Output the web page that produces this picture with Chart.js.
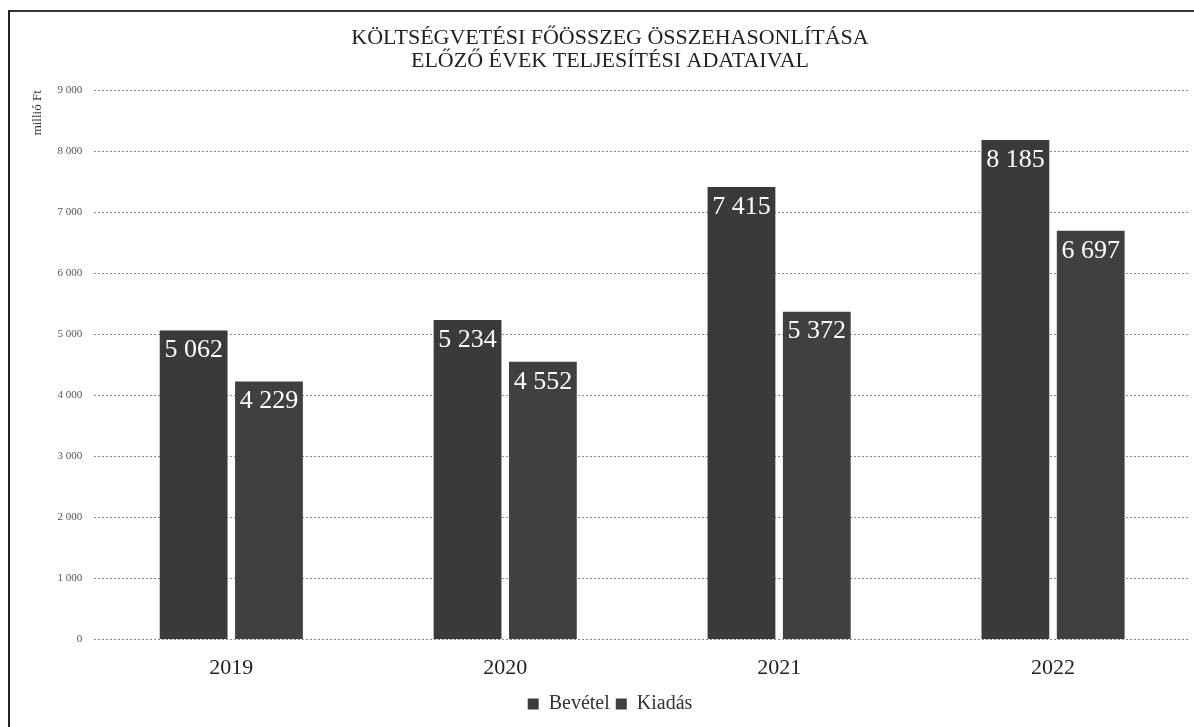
<!DOCTYPE html>
<html>
<head>
<meta charset="utf-8">
<script src="https://cdn.jsdelivr.net/npm/chart.js@4"></script>
<style>
  html, body { margin: 0; padding: 0; background: #fff; }
  #keret {
    position: absolute; left: 8px; top: 10px; width: 1186px; height: 717px;
    border-left: 2px solid #222; border-top: 2px solid #333; box-sizing: border-box;
  }
  #doboz { position: absolute; left: 0; top: 0; width: 1194px; height: 727px; }
</style>
</head>
<body>
<div id="keret"></div>
<div id="doboz"><canvas id="grafikon" width="1194" height="727"></canvas></div>
<script>
"use strict";

// adatok (millió Ft)
const evek = ['2019', '2020', '2021', '2022'];
const bevetel = [5062, 5234, 7415, 8185];
const kiadas = [4229, 4552, 5372, 6697];
const sorozatNevek = ['Bevétel', 'Kiadás'];
const tengelyMax = 9000;
const tengelyLepes = 1000;

const betu = '"Liberation Serif", "DejaVu Serif", serif';

// ezres tagolás szóközzel: 5062 -> "5 062"
function tagol(v) {
    return String(v).replace(/\B(?=(\d{3})+(?!\d))/g, ' ');
}

// értékek kiírása az oszlopok tetejére, belülre
const ertekCimkek = {
    id: 'ertekCimkek',
    afterDatasetsDraw(chart) {
        const ctx = chart.ctx;
        ctx.save();
        ctx.font = '26px ' + betu;
        ctx.fillStyle = '#ffffff';
        ctx.textAlign = 'center';
        ctx.textBaseline = 'top';
        chart.data.datasets.forEach(function (ds, i) {
            chart.getDatasetMeta(i).data.forEach(function (bar, j) {
                ctx.fillText(tagol(ds.data[j]), bar.x, bar.y + 7);
            });
        });
        ctx.restore();
    }
};

const ctx = document.getElementById('grafikon');
new Chart(ctx, {
    type: 'bar',
    data: {
        labels: evek,
        datasets: [{
            label: sorozatNevek[0],
            data: bevetel,
            backgroundColor: '#3a3a3a',
            barPercentage: 0.9,
            categoryPercentage: 0.55
        }, {
            label: sorozatNevek[1],
            data: kiadas,
            backgroundColor: '#404040',
            barPercentage: 0.9,
            categoryPercentage: 0.55
        }]
    },
    options: {
        responsive: false,
        animation: false,
        devicePixelRatio: 1,
        layout: { padding: { left: 30, right: 4, top: 0, bottom: 3 } },
        plugins: {
            title: {
                display: true,
                text: ['KÖLTSÉGVETÉSI FŐÖSSZEG ÖSSZEHASONLÍTÁSA', 'ELŐZŐ ÉVEK TELJESÍTÉSI ADATAIVAL'],
                color: '#222',
                font: { family: betu, size: 22, weight: 'normal', lineHeight: 1.05 },
                padding: { top: 27, bottom: 17 }
            },
            legend: {
                position: 'bottom',
                labels: {
                    color: '#333',
                    font: { family: betu, size: 20 },
                    boxWidth: 11,
                    boxHeight: 11,
                    padding: 6
                }
            },
            tooltip: { enabled: false }
        },
        scales: {
            x: {
                grid: { display: false },
                border: { display: false },
                ticks: { color: '#222', font: { family: betu, size: 22 }, padding: 7 }
            },
            y: {
                min: 0,
                max: tengelyMax,
                border: { display: false, dash: [2, 2] },
                grid: { color: '#8a8a8a', lineWidth: 1, tickLength: 0 },
                ticks: {
                    stepSize: tengelyLepes,
                    color: '#555',
                    font: { family: betu, size: 11 },
                    padding: 12,
                    callback: function (v) { return tagol(v); }
                },
                title: {
                    display: true,
                    text: 'millió Ft',
                    align: 'end',
                    color: '#333',
                    font: { family: betu, size: 13 },
                    padding: { top: 0, bottom: 0 }
                }
            }
        }
    },
    plugins: [ertekCimkek]
});
</script>
</body>
</html>
